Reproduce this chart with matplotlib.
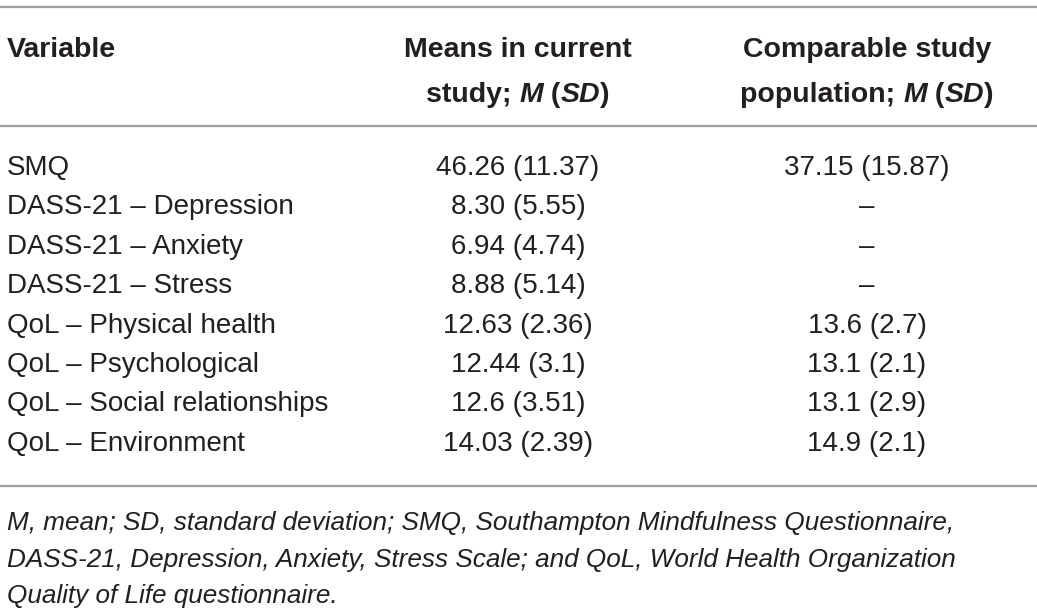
import matplotlib
matplotlib.use('Agg')
import matplotlib.pyplot as plt

plt.rcParams['font.family'] = ['Liberation Sans', 'DejaVu Sans']

variables = ['SMQ', 'DASS-21 \u2013 Depression', 'DASS-21 \u2013 Anxiety',
             'DASS-21 \u2013 Stress', 'QoL \u2013 Physical health',
             'QoL \u2013 Psychological', 'QoL \u2013 Social relationships',
             'QoL \u2013 Environment']
current = ['46.26 (11.37)', '8.30 (5.55)', '6.94 (4.74)', '8.88 (5.14)',
           '12.63 (2.36)', '12.44 (3.1)', '12.6 (3.51)', '14.03 (2.39)']
comparable = ['37.15 (15.87)', '\u2013', '\u2013', '\u2013',
              '13.6 (2.7)', '13.1 (2.1)', '13.1 (2.9)', '14.9 (2.1)']
footnote = ['M, mean; SD, standard deviation; SMQ, Southampton Mindfulness Questionnaire,',
            'DASS-21, Depression, Anxiety, Stress Scale; and QoL, World Health Organization',
            'Quality of Life questionnaire.']

W, H = 1037, 613
ink = '#231f20'
rule = '#9d9d9d'
fs = 20
fs_head = 20.5

fig = plt.figure(figsize=(W / 100, H / 100), dpi=100)
ax = fig.add_axes([0, 0, 1, 1])
ax.set_xlim(0, W)
ax.set_ylim(H, 0)
ax.axis('off')

x_var, x_cur, x_cmp = 7, 518, 867


def pieces(x, y, parts, size=fs_head):
    """draw a run of (text, style) pieces centred on x"""
    r = fig.canvas.get_renderer()
    objs = []
    for s, st in parts:
        t = ax.text(0, y, s, fontsize=size, color=ink, va='center', ha='left',
                    fontweight='bold', fontstyle=st)
        objs.append(t)
    widths = [t.get_window_extent(r).width for t in objs]
    x0 = x - sum(widths) / 2
    for t, w in zip(objs, widths):
        t.set_x(x0)
        x0 += w


# rules
for yy in (7, 126, 486):
    ax.plot([0, W], [yy, yy], color=rule, lw=1.6, solid_capstyle='butt')

# header
ax.text(x_var, 50, 'Variable', fontsize=fs_head, fontweight='bold', color=ink, va='center')
ax.text(x_cur, 50, 'Means in current', fontsize=fs_head, fontweight='bold', color=ink,
        va='center', ha='center')
pieces(x_cur, 95, [('study; ', 'normal'), ('M', 'italic'), (' (', 'normal'),
                   ('SD', 'italic'), (')', 'normal')])
ax.text(x_cmp, 50, 'Comparable study', fontsize=fs_head, fontweight='bold', color=ink,
        va='center', ha='center')
pieces(x_cmp, 95, [('population; ', 'normal'), ('M', 'italic'), (' (', 'normal'),
                   ('SD', 'italic'), (')', 'normal')])

# body
y0, dy = 168, 39.4
for i, (v, c, p) in enumerate(zip(variables, current, comparable)):
    y = y0 + i * dy
    ax.text(x_var, y, v, fontsize=fs, color=ink, va='center')
    ax.text(x_cur, y, c, fontsize=fs, color=ink, va='center', ha='center')
    ax.text(x_cmp, y, p, fontsize=fs, color=ink, va='center', ha='center')

# note
for i, line in enumerate(footnote):
    ax.text(x_var, 523 + i * 36.5, line, fontsize=18.8, color=ink, va='center',
            fontstyle='italic')

fig.savefig('out.png', dpi=100)
